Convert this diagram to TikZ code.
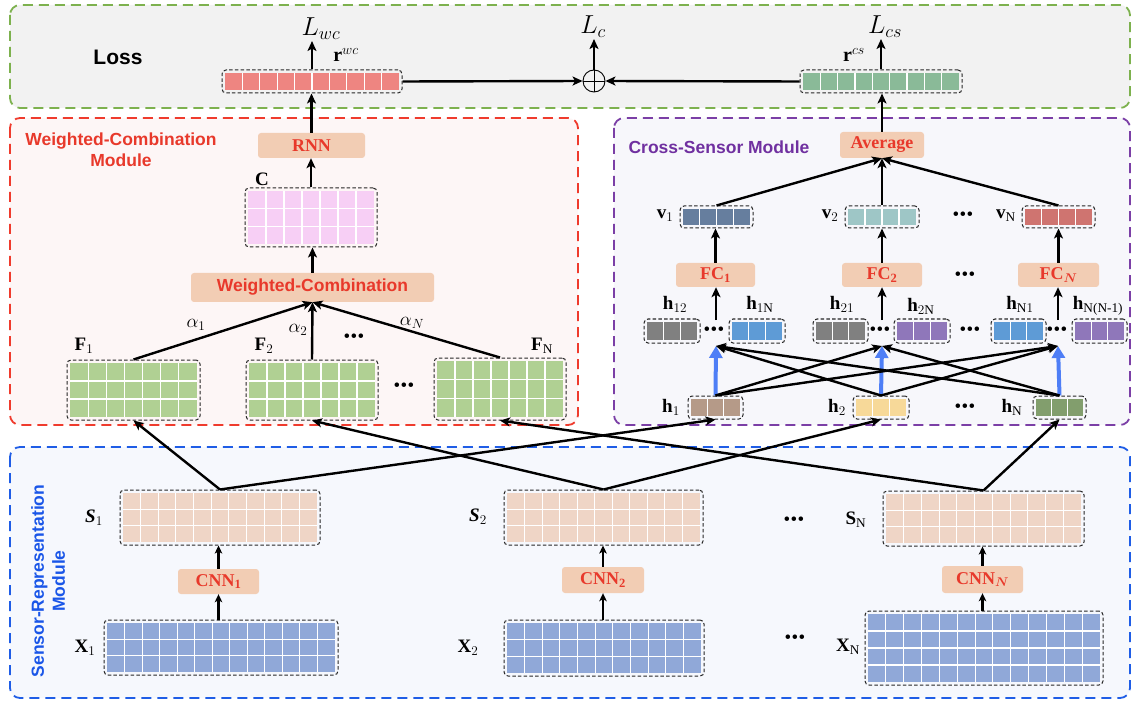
\RequirePackage{fix-cm}
\documentclass[tikz,border=0pt]{standalone}
\usepackage{amsmath}
\usepackage{fontspec}
\setmainfont{Liberation Serif}
\newfontfamily\arial{Liberation Sans}
\usetikzlibrary{arrows.meta,fit,calc}

\definecolor{cLossBG}{HTML}{F2F2F2}
\definecolor{cGreenB}{HTML}{7DB14E}
\definecolor{cRedB}{HTML}{EF3B2D}
\definecolor{cWCBG}{HTML}{FDF6F6}
\definecolor{cPurB}{HTML}{7B3FA6}
\definecolor{cCSBG}{HTML}{F7F7FB}
\definecolor{cBlueB}{HTML}{1F5DE6}
\definecolor{cSRBG}{HTML}{F6F8FD}
\definecolor{cPeach}{HTML}{F2CDB4}
\definecolor{cRedT}{HTML}{E8392B}
\definecolor{cPurT}{HTML}{7030A0}
\definecolor{cBlueT}{HTML}{1A56E8}
\definecolor{cRwc}{HTML}{EE8581}
\definecolor{cRcs}{HTML}{8ABA98}
\definecolor{cC}{HTML}{F7CFF5}
\definecolor{cF}{HTML}{B0D093}
\definecolor{cVa}{HTML}{667E9E}
\definecolor{cVb}{HTML}{9EC6C6}
\definecolor{cVN}{HTML}{CF7470}
\definecolor{cGray}{HTML}{808080}
\definecolor{cBl}{HTML}{5E9BD6}
\definecolor{cPu}{HTML}{8F77BA}
\definecolor{cHa}{HTML}{B59A88}
\definecolor{cHb}{HTML}{F7D999}
\definecolor{cHN}{HTML}{829E6D}
\definecolor{cS}{HTML}{EFD5C6}
\definecolor{cX}{HTML}{90A8D8}
\definecolor{cBArr}{HTML}{4E7EF6}

\newcommand\ddd{\textbullet\kern0.3pt\textbullet\kern0.3pt\textbullet}

\newcommand\mymat[8]{%
  \coordinate (#1-a) at (#2,#3);
  \coordinate (#1-b) at (#4,#5);
  \fill[#8] (#2+3,#3+3) rectangle (#4-3,#5-3);
  \pgfmathsetmacro\mdx{(#4-#2-6)/#6}
  \pgfmathsetmacro\mdy{(#5-#3-6)/#7}
  \pgfmathtruncatemacro\mnc{#6-1}
  \pgfmathtruncatemacro\mnr{#7-1}
  \foreach \i in {1,...,\mnc} \draw[white,line width=1.1pt] (#2+3+\i*\mdx,#3+3) -- (#2+3+\i*\mdx,#5-3);
  \ifnum\mnr>0 \foreach \j in {1,...,\mnr} \draw[white,line width=1.1pt] (#2+3,#3+3+\j*\mdy) -- (#4-3,#3+3+\j*\mdy); \fi
  \node[matframe, fit=(#1-a)(#1-b)] (#1) {};
}

\begin{document}
\begin{tikzpicture}[x=1pt,y=-1pt,
  modbox/.style={line width=1.8pt, dash pattern=on 10pt off 6pt, rounded corners=10pt},
  matframe/.style={draw=black!85, line width=1pt, dash pattern=on 3.5pt off 2.2pt, rounded corners=4pt, inner sep=0pt},
  pbox/.style={fill=cPeach, rounded corners=3pt, inner sep=0pt, text=cRedT, font=\bfseries\fontsize{18}{18}\selectfont},
  title/.style={font=\arial\bfseries\fontsize{17.5}{21}\selectfont, inner sep=0pt},
  lab/.style={font=\fontsize{19}{19}\selectfont, inner sep=0pt},
  big/.style={font=\fontsize{26}{26}\selectfont, inner sep=1pt},
  dts/.style={font=\fontsize{19}{19}\selectfont, inner sep=0pt},
  arr/.style={line width=2.4pt, -{Stealth[length=10pt,width=9pt,inset=2.5pt]}},
  sarr/.style={line width=2.2pt, -{Stealth[length=8pt,width=7.5pt,inset=2pt]}},
  barr/.style={line width=4pt, draw=cBArr, -{Triangle[length=12pt,width=13pt]}}
]
\useasboundingbox (0,0) rectangle (1135,703);

% modules
\draw[modbox, draw=cGreenB, fill=cLossBG] (10,5) rectangle (1130,108);
\draw[modbox, draw=cRedB, fill=cWCBG] (10,118) rectangle (578,425);
\draw[modbox, draw=cPurB, fill=cCSBG] (614,118) rectangle (1130,425);
\draw[modbox, draw=cBlueB, fill=cSRBG] (10,447) rectangle (1130,698);

% titles
\node[font=\arial\bfseries\fontsize{21}{21}\selectfont, inner sep=0pt] (loss) at (118,57) {Loss};
\node[title, text=cRedT, align=center] (wct) at (121,150) {Weighted-Combination\\Module};
\node[title, text=cPurT] (cst) at (719,147) {Cross-Sensor Module};
\node[title, text=cBlueT, rotate=90, align=center] (srt) at (48,581) {Sensor-Representation\\Module};

% loss row
\mymat{rwc}{222}{70}{402}{93}{10}{1}{cRwc}
\mymat{rcs}{800}{70}{962}{93}{9}{1}{cRcs}
\node[circle, draw, line width=0.9pt, minimum size=22pt, inner sep=0pt] (op) at (594,81) {};
\draw[line width=0.9pt] (op.north) -- (op.south) (op.west) -- (op.east);
\node[big] (Lwc) at (321,29) {$L_{wc}$};
\node[big] (Lc) at (593,27) {$L_{c}$};
\node[big] (Lcs) at (885,27) {$L_{cs}$};
\node[lab, font=\fontsize{20}{20}\selectfont] (rwcl) at (346,55) {$\mathbf{r}^{wc}$};
\node[lab, font=\fontsize{20}{20}\selectfont] (rcsl) at (854,55) {$\mathbf{r}^{cs}$};

% weighted combination module
\node[pbox, minimum width=107pt, minimum height=25pt] (rnn) at (311.5,145.5) {RNN};
\mymat{C}{245}{188}{377}{247}{7}{3}{cC}
\node[lab] (Cl) at (262,179) {$\mathbf{C}$};
\node[pbox, minimum width=243pt, minimum height=29pt, font=\arial\bfseries\fontsize{17.5}{17.5}\selectfont] (wc) at (312.5,287.5) {Weighted-Combination};
\mymat{F1}{67}{360}{200}{420}{7}{3}{cF}
\mymat{F2}{246}{360}{378}{420}{7}{3}{cF}
\mymat{FN}{434}{358}{566}{420}{7}{3}{cF}
\node[lab] (F1l) at (84,346) {$\mathbf{F}_1$};
\node[lab] (F2l) at (264,346) {$\mathbf{F}_2$};
\node[lab] (FNl) at (542,346) {$\mathbf{F}_{\mathrm{N}}$};
\node[lab] (a1) at (196,325) {$\alpha_1$};
\node[lab] (a2) at (298,330) {$\alpha_2$};
\node[lab] (aN) at (412,323) {$\alpha_N$};
\node[dts] (d1) at (354,338) {\ddd};
\node[dts] (d2) at (404,387) {\ddd};

% cross-sensor module
\node[pbox, minimum width=84pt, minimum height=26pt] (avg) at (882,145) {Average};
\mymat{v1}{680}{206}{753}{228}{4}{1}{cVa}
\mymat{v2}{845}{206}{919}{228}{4}{1}{cVb}
\mymat{vN}{1022}{206}{1095}{228}{4}{1}{cVN}
\node[lab] (v1l) at (665,216) {$\mathbf{v}_1$};
\node[lab] (v2l) at (830,216) {$\mathbf{v}_2$};
\node[lab] (vNl) at (1006,216) {$\mathbf{v}_{\mathrm{N}}$};
\node[dts] (d3) at (963,216) {\ddd};
\node[pbox, minimum width=79pt, minimum height=24pt] (fc1) at (715.5,275) {FC$_{\mathbf{1}}$};
\node[pbox, minimum width=80pt, minimum height=24pt] (fc2) at (882,275) {FC$_{\mathbf{2}}$};
\node[pbox, minimum width=81pt, minimum height=24pt] (fcN) at (1058.5,275) {FC$_{\boldsymbol{N}}$};
\node[dts] (d4) at (965,276) {\ddd};
\mymat{h12}{644}{319}{700}{343}{3}{1}{cGray}
\mymat{h1N}{729}{319}{785}{343}{3}{1}{cBl}
\mymat{h21}{813}{319}{868}{343}{3}{1}{cGray}
\mymat{h2N}{894}{319}{950}{343}{3}{1}{cPu}
\mymat{hN1}{991}{319}{1046}{343}{3}{1}{cBl}
\mymat{hNN}{1072}{319}{1127}{343}{3}{1}{cPu}
\node[lab] (h12l) at (675,304) {$\mathbf{h}_{12}$};
\node[lab] (h1Nl) at (760,304) {$\mathbf{h}_{1\mathrm{N}}$};
\node[lab] (h21l) at (842,304) {$\mathbf{h}_{21}$};
\node[lab] (h2Nl) at (921,306) {$\mathbf{h}_{2\mathrm{N}}$};
\node[lab] (hN1l) at (1020,304) {$\mathbf{h}_{\mathrm{N}1}$};
\node[lab] (hNNl) at (1098,306) {$\mathbf{h}_{\text{N(N-1)}}$};
\node[dts] (d5) at (714,331) {\ddd};
\node[dts] (d6) at (880,331) {\ddd};
\node[dts] (d7) at (970,331) {\ddd};
\node[dts] (d8) at (1057,331) {\ddd};
\mymat{h1}{688}{396}{743}{419}{3}{1}{cHa}
\mymat{h2}{853}{396}{909}{419}{3}{1}{cHb}
\mymat{hN}{1033}{396}{1086}{419}{3}{1}{cHN}
\node[lab] (h1l) at (671,407) {$\mathbf{h}_1$};
\node[lab] (h2l) at (837,407) {$\mathbf{h}_2$};
\node[lab] (hNl) at (1012,407) {$\mathbf{h}_{\mathrm{N}}$};
\node[dts] (d9) at (965,408) {\ddd};
\coordinate (g1) at (716,320);
\coordinate (g2) at (882,320);
\coordinate (gN) at (1058,320);
\coordinate (t1) at (716,346);
\coordinate (t2) at (882,346);
\coordinate (tN) at (1058,346);

% sensor representation module
\mymat{S1}{120}{490}{320}{545}{11}{3}{cS}
\mymat{S2}{504}{490}{703}{545}{11}{3}{cS}
\mymat{SN}{883}{491}{1084}{546}{11}{3}{cS}
\mymat{X1}{104}{620}{338}{675}{13}{3}{cX}
\mymat{X2}{504}{620}{704}{676}{11}{3}{cX}
\mymat{XN}{865}{611}{1103}{685}{13}{4}{cX}
\node[pbox, minimum width=81pt, minimum height=25pt] (cnn1) at (218.5,581.5) {CNN$_{\mathbf{1}}$};
\node[pbox, minimum width=82pt, minimum height=26pt] (cnn2) at (603,580) {CNN$_{\mathbf{2}}$};
\node[pbox, minimum width=81pt, minimum height=27pt] (cnnN) at (982.5,579.5) {CNN$_{\boldsymbol{N}}$};
\node[lab] (S1l) at (94,518) {\textbf{\textit{S}}$_1$};
\node[lab] (S2l) at (478,517) {\textbf{\textit{S}}$_2$};
\node[lab] (SNl) at (856,520) {$\mathbf{S}_{\mathrm{N}}$};
\node[lab] (X1l) at (85,648) {$\mathbf{X}_1$};
\node[lab] (X2l) at (468,648) {$\mathbf{X}_2$};
\node[lab] (XNl) at (848,647) {$\mathbf{X}_{\mathrm{N}}$};
\node[dts] (d10) at (794,521) {\ddd};
\node[dts] (d11) at (795,639) {\ddd};

% connectors: loss
\draw[arr] (rwc.north) -- (rwc.north |- Lwc.south);
\draw[arr] (op.north) -- (op.north |- Lc.south);
\draw[arr] (rcs.north) -- (rcs.north |- Lcs.south);
\draw[arr] (rwc.east) -- (op.west);
\draw[arr] (rcs.west) -- (op.east);
\draw[arr] (rnn.north) -- (rnn.north |- rwc.south);
\draw[arr] (avg.north) -- (avg.north |- rcs.south);

% connectors: WC module
\draw[arr] (C.north) -- (C.north |- rnn.south);
\draw[arr] (wc.north) -- (wc.north |- C.south);
\draw[arr] (F1.north) -- (wc.south);
\draw[arr] (F2.north) -- (wc.south);
\draw[arr] (FN.north) -- (wc.south);

% connectors: CS module
\draw[arr] (v1.north) -- (avg.south);
\draw[arr] (v2.north) -- (avg.south);
\draw[arr] (vN.north) -- (avg.south);
\draw[arr] (fc1.north) -- (fc1.north |- v1.south);
\draw[arr] (fc2.north) -- (fc2.north |- v2.south);
\draw[arr] (fcN.north) -- (fcN.north |- vN.south);
\draw[arr] (g1) -- (g1 |- fc1.south);
\draw[arr] (g2) -- (g2 |- fc2.south);
\draw[arr] (gN) -- (gN |- fcN.south);
\draw[barr] (h1.north) -- (t1);
\draw[barr] (h2.north) -- (t2);
\draw[barr] (hN.north) -- (tN);
\draw[arr] (h1.north) -- (t2);
\draw[arr] (h1.north) -- (tN);
\draw[arr] (h2.north) -- (t1);
\draw[arr] (h2.north) -- (tN);
\draw[arr] (hN.north) -- (t1);
\draw[arr] (hN.north) -- (t2);

% connectors: SR module
\draw[sarr] (X1.north -| cnn1.south) -- (cnn1.south);
\draw[sarr] (cnn1.north) -- (cnn1.north |- S1.south);
\draw[sarr] (X2.north -| cnn2.south) -- (cnn2.south);
\draw[sarr] (cnn2.north) -- (cnn2.north |- S2.south);
\draw[sarr] (XN.north -| cnnN.south) -- (cnnN.south);
\draw[sarr] (cnnN.north) -- (cnnN.north |- SN.south);
\draw[arr] (S1.north) -- (F1.south);
\draw[arr] (S1.north) -- (h1.south);
\draw[arr] (S2.north) -- (F2.south);
\draw[arr] (S2.north) -- (h2.south);
\draw[arr] (SN.north) -- (FN.south);
\draw[arr] (SN.north) -- (hN.south);
\end{tikzpicture}
\end{document}
